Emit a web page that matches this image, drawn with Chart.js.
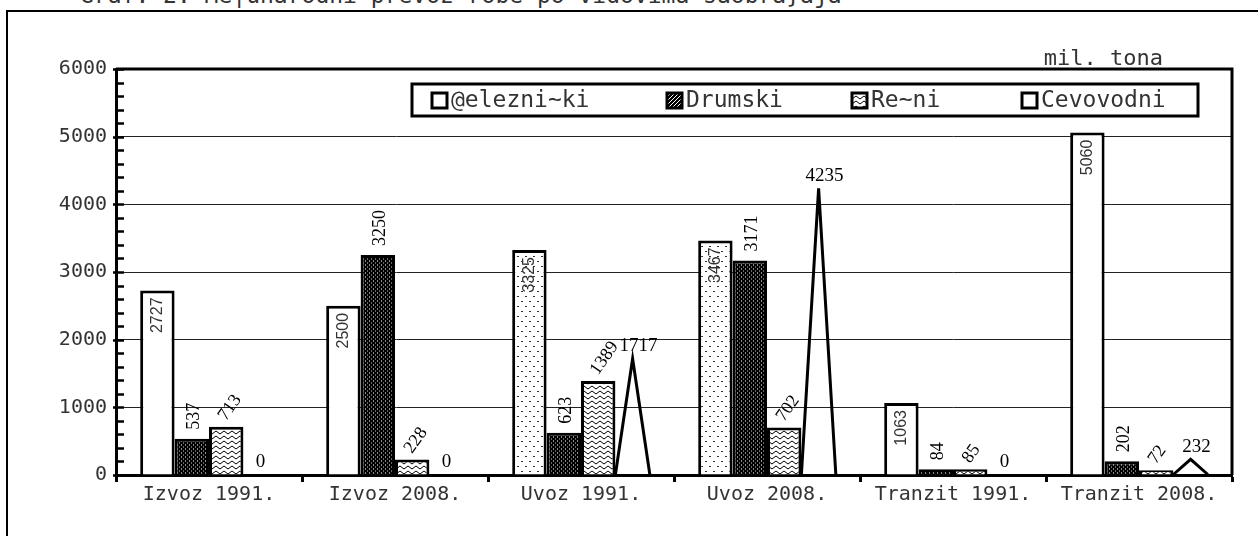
<!DOCTYPE html>
<html>
<head>
<meta charset="utf-8">
<script src="https://cdn.jsdelivr.net/npm/chart.js@4.4.0/dist/chart.umd.min.js"></script>
<style>
    html, body { margin: 0; padding: 0; background: #fff; overflow: hidden; }
    #wrap { position: relative; width: 1258px; height: 536px; overflow: hidden; }
    #frame { position: absolute; left: 6px; top: 10px; width: 1300px; height: 600px; border: 2px solid #000; }
    #title { position: absolute; left: 80px; top: -16px; font: 23px "DejaVu Sans Mono"; line-height: 23px; color: #333; white-space: pre; }
    canvas { position: absolute; left: 0; top: 0; }
</style>
</head>
<body>
<div id="wrap">
    <div id="frame"></div>
    <div id="title">Graf. 2. Me|unarodni prevoz robe po vidovima saobra}aja</div>
    <canvas id="transportChart" width="1258" height="536"></canvas>
</div>
<script>
const categories = ["Izvoz 1991.", "Izvoz 2008.", "Uvoz 1991.", "Uvoz 2008.", "Tranzit 1991.", "Tranzit 2008."];
const seriesNames = ["@elezni~ki", "Drumski", "Re~ni", "Cevovodni"];
const zeleznicki = [2727, 2500, 3325, 3467, 1063, 5060];
const drumski = [537, 3250, 623, 3171, 84, 202];
const recni = [713, 228, 1389, 702, 85, 72];
const cevovodni = [0, 0, 1717, 4235, 0, 232];
const yMax = 6000;
const yStep = 1000;
const unitLabel = "mil. tona";

document.addEventListener("DOMContentLoaded", function () {

    const canvas = document.getElementById("transportChart");
    const MONO = '"DejaVu Sans Mono"';

    function makePattern(w, h, draw) {
        const c = document.createElement("canvas");
        c.width = w;
        c.height = h;
        const g = c.getContext("2d");
        draw(g, w, h);
        return g.createPattern(c, "repeat");
    }

    // tackasto - samo za uvoz
    const dotted = makePattern(8, 10, function (g) {
        g.fillStyle = "#fff";
        g.fillRect(0, 0, 8, 10);
        g.fillStyle = "#333";
        g.fillRect(1, 1, 2, 1);
        g.fillRect(5, 6, 2, 1);
    });
    const darkStreaks = makePattern(4, 4, function (g) {
        g.fillStyle = "#000";
        g.fillRect(0, 0, 4, 4);
        g.fillStyle = "#8a8a8a";
        g.fillRect(1, 0, 1, 2);
        g.fillStyle = "#666";
        g.fillRect(3, 2, 1, 2);
    });
    const zigzag = makePattern(8, 5, function (g) {
        g.fillStyle = "#fff";
        g.fillRect(0, 0, 8, 5);
        g.strokeStyle = "#000";
        g.lineWidth = 1;
        g.beginPath();
        g.moveTo(0, 1);
        g.lineTo(4, 4);
        g.lineTo(8, 1);
        g.stroke();
    });
    const diagonal = makePattern(4, 4, function (g) {
        g.fillStyle = "#000";
        g.fillRect(0, 0, 4, 4);
        g.fillStyle = "#fff";
        g.fillRect(3, 0, 1, 1);
        g.fillRect(2, 1, 1, 1);
        g.fillRect(1, 2, 1, 1);
        g.fillRect(0, 3, 1, 1);
    });

    const zelFill = categories.map(function (c) { return c.indexOf("Uvoz") === 0 ? dotted : "#fff"; });

    const frameAndTicks = {
        id: "frameAndTicks",
        beforeDraw(chart) {
            chart.ctx.letterSpacing = "0px";
        },
        afterDatasetsDraw(chart) {
            const ctx = chart.ctx;
            const a = chart.chartArea;
            const y = chart.scales.y;
            ctx.save();
            ctx.strokeStyle = "#000";

            // cevovodni se crta kao trougao
            const meta = chart.getDatasetMeta(3);
            ctx.lineWidth = 3;
            ctx.lineJoin = "miter";
            meta.data.forEach(function (el, i) {
                if (!cevovodni[i]) return;
                const p = el.getProps(["x", "y", "base", "width"], true);
                ctx.beginPath();
                ctx.moveTo(p.x - p.width / 2, p.base);
                ctx.lineTo(p.x, p.y);
                ctx.lineTo(p.x + p.width / 2, p.base);
                ctx.stroke();
            });

            // okvir gore i desno
            ctx.beginPath();
            ctx.moveTo(a.left, a.top);
            ctx.lineTo(a.right, a.top);
            ctx.lineTo(a.right, a.bottom);
            ctx.stroke();

            // sitni podeoci na y osi
            ctx.lineWidth = 2.5;
            for (let v = 0; v <= yMax; v += yStep / 5) {
                const py = Math.round(y.getPixelForValue(v)) + 0.5;
                ctx.beginPath();
                ctx.moveTo(a.left - (v % yStep === 0 ? 3 : 0), py);
                ctx.lineTo(a.left + 8, py);
                ctx.stroke();
            }
            ctx.restore();
        }
    };

    const valueLabels = {
        id: "valueLabels",
        afterDatasetsDraw(chart) {
            const ctx = chart.ctx;
            ctx.save();
            ctx.letterSpacing = "0px";
            chart.data.datasets.forEach(function (ds, di) {
                chart.getDatasetMeta(di).data.forEach(function (el, i) {
                    const p = el.getProps(["x", "y", "base", "width"], true);
                    const txt = String(ds.data[i]);
                    ctx.save();
                    if (di === 0) {
                        ctx.font = "16px 'Liberation Sans'";
                        ctx.fillStyle = "#333";
                        ctx.translate(p.x, p.y + 7);
                        ctx.rotate(-Math.PI / 2);
                        ctx.textAlign = "right";
                        ctx.textBaseline = "middle";
                        ctx.fillText(txt, 0, 0);
                    } else if (di === 1) {
                        ctx.font = "18px 'Liberation Serif'";
                        ctx.fillStyle = "#000";
                        ctx.translate(p.x + 2, p.y - 9);
                        ctx.rotate(-Math.PI / 2);
                        ctx.textAlign = "left";
                        ctx.textBaseline = "middle";
                        ctx.fillText(txt, 0, 0);
                    } else if (di === 2) {
                        ctx.font = "18px 'Liberation Serif'";
                        ctx.fillStyle = "#000";
                        ctx.translate(p.x - 4, p.y - 8);
                        ctx.rotate(-Math.PI * 55 / 180);
                        ctx.textAlign = "left";
                        ctx.textBaseline = "middle";
                        ctx.fillText(txt, 0, 0);
                    } else {
                        ctx.font = "19px 'Liberation Serif'";
                        ctx.fillStyle = "#000";
                        ctx.textAlign = "center";
                        ctx.textBaseline = "bottom";
                        const dx = ds.data[i] ? 6 : 0;
                        ctx.fillText(txt, p.x + dx, p.y - 3);
                    }
                    ctx.restore();
                });
            });
            ctx.restore();
        },
        afterDraw(chart) {
            const ctx = chart.ctx;
            const a = chart.chartArea;
            ctx.save();
            ctx.letterSpacing = "0px";

            // jedinica mere
            ctx.font = "22px " + MONO;
            ctx.fillStyle = "#333";
            ctx.textAlign = "right";
            ctx.textBaseline = "alphabetic";
            ctx.fillText(unitLabel, a.right - 69, a.top - 4);

            // legenda
            const bx = a.left + 296, by = a.top + 15, bw = 786, bh = 32;
            ctx.fillStyle = "#fff";
            ctx.fillRect(bx, by, bw, bh);
            ctx.lineWidth = 3;
            ctx.strokeStyle = "#000";
            ctx.strokeRect(bx, by, bw, bh);
            const offs = [20, 255, 440, 610];
            const swatch = ["#fff", diagonal, zigzag, "#fff"];
            ctx.font = "23px " + MONO;
            ctx.textAlign = "left";
            ctx.textBaseline = "middle";
            seriesNames.forEach(function (name, i) {
                const sx = bx + offs[i], sy = by + 9;
                ctx.fillStyle = swatch[i];
                ctx.fillRect(sx, sy, 15, 15);
                ctx.lineWidth = 3;
                ctx.strokeRect(sx, sy, 15, 15);
                ctx.fillStyle = "#333";
                ctx.fillText(name, sx + 19, by + bh / 2 + 1);
            });
            ctx.restore();
        }
    };

    new Chart(canvas, {
        type: "bar",
        data: {
            labels: categories,
            datasets: [
                { label: seriesNames[0], data: zeleznicki, backgroundColor: zelFill, borderColor: "#000", borderWidth: 3 },
                { label: seriesNames[1], data: drumski, backgroundColor: darkStreaks, borderColor: "#000", borderWidth: 3 },
                { label: seriesNames[2], data: recni, backgroundColor: zigzag, borderColor: "#000", borderWidth: 3 },
                { label: seriesNames[3], data: cevovodni, backgroundColor: "rgba(0,0,0,0)", borderWidth: 0 }
            ]
        },
        options: {
            responsive: false,
            animation: false,
            layout: { padding: { top: 69, right: 26, left: 0, bottom: 0 } },
            datasets: { bar: { categoryPercentage: 0.74, barPercentage: 1 } },
            plugins: {
                legend: { display: false },
                tooltip: { enabled: false }
            },
            scales: {
                x: {
                    afterFit: function (s) { s.height = 61; },
                    grid: { drawOnChartArea: false, drawTicks: true, tickLength: 7, tickWidth: 3, tickColor: "#000", offset: true },
                    border: { color: "#000", width: 3 },
                    ticks: { color: "#333", font: { family: "DejaVu Sans Mono", size: 20 }, padding: 1, maxRotation: 0 }
                },
                y: {
                    min: 0,
                    max: yMax,
                    afterFit: function (s) { s.width = 116; },
                    grid: { color: "#222", lineWidth: 1, drawTicks: false },
                    border: { color: "#000", width: 3 },
                    ticks: {
                        stepSize: yStep, color: "#333", font: { family: "DejaVu Sans Mono", size: 20 }, padding: 9,
                        callback: function (v) { return String(v); }
                    }
                }
            }
        },
        plugins: [frameAndTicks, valueLabels]
    });
});
</script>
</body>
</html>
